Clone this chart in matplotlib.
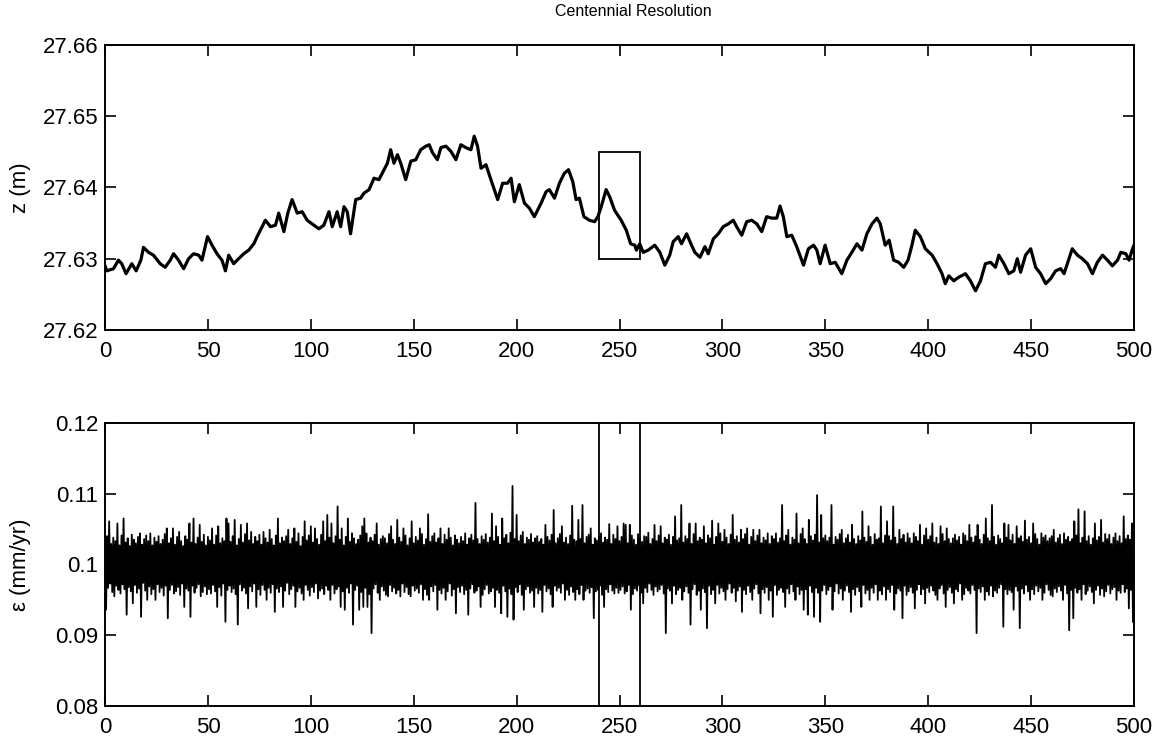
import matplotlib
matplotlib.use('Agg')
import matplotlib.pyplot as plt
from matplotlib.patches import Rectangle

plt.rcParams['font.family'] = ['Liberation Sans', 'DejaVu Sans']

# top panel: water level z (m) against time
top_x = [0.0, 0.8, 4.1, 6.5, 8.1, 10.2, 13.0, 15.1, 17.4, 18.7, 21.1, 23.5, 26.8, 29.2, 31.7, 33.3, 35.7, 38.2,
         40.6, 43.0, 45.5, 47.1, 49.8, 52.0, 54.4, 56.8, 58.5, 60.1, 62.5, 64.9, 67.4, 69.8, 72.3, 73.9, 76.3,
         77.9, 80.4, 82.8, 84.4, 86.9, 88.8, 90.9, 93.4, 95.8, 98.2, 101.5, 103.9, 106.3, 108.8, 110.4, 112.8,
         114.5, 116.1, 117.7, 119.3, 121.8, 124.2, 125.8, 128.3,
         130.7, 133.1, 135.6, 137.2, 138.8, 140.4, 142.1, 143.7, 146.1, 148.6, 151.0, 153.4, 155.9, 157.5,
         159.1, 161.5, 163.2, 165.6, 168.0, 170.5, 172.9, 175.3, 177.8, 179.4, 181.0, 182.7, 185.1, 187.5,
         190.8, 193.2, 195.6, 197.3, 198.9, 201.3, 203.8, 206.2, 208.6, 211.9, 214.3, 215.9, 218.4, 220.8,
         223.2, 225.2, 227.3, 228.9, 230.5, 232.7, 235.4, 237.9, 239.5, 241.1, 243.5, 245.2, 247.6, 250.8,
         253.3, 255.4,
         257.4, 258.2, 259.8, 261.5, 263.9, 267.1, 269.6, 272.0, 274.4, 276.1, 278.5, 280.1, 282.6, 285.0,
         286.6, 289.1, 291.5, 293.1, 295.6, 298.0, 300.4, 302.9, 305.3, 306.9, 309.4, 311.8, 314.2, 316.7,
         319.1, 321.5, 324.0, 326.4, 328.0, 329.6, 331.3, 333.7, 336.1, 339.4, 341.8, 344.3, 345.9, 347.5,
         349.9, 352.4, 354.8, 358.0, 360.5, 362.9, 365.4, 367.8, 370.2, 372.7, 375.1, 376.7,
         379.1, 381.0, 383.2, 385.6, 388.1, 390.2, 392.1, 393.7, 396.2, 398.6, 401.9, 404.3, 406.7, 408.3,
         410.0, 412.4, 414.8, 418.1, 420.5, 423.0, 425.4, 427.8, 430.3, 432.7, 434.3, 436.8, 439.2, 441.6,
         443.3, 444.9, 447.3, 449.8, 452.2, 454.6, 457.1, 459.5, 461.9, 464.4, 466.0, 467.6, 470.0, 472.5,
         474.9, 477.4, 479.8, 482.2, 484.7, 487.1, 489.5, 492.0, 493.6, 496.0, 497.6, 499.3, 500.0]
top_z = [27.6290, 27.6283, 27.6286, 27.6298, 27.6293, 27.6279, 27.6293, 27.6283, 27.6298, 27.6316, 27.6309,
         27.6305, 27.6293, 27.6288, 27.6298, 27.6307, 27.6298, 27.6286, 27.6300, 27.6307, 27.6305, 27.6298,
         27.6331, 27.6319, 27.6307, 27.6298, 27.6283, 27.6305, 27.6293, 27.6300, 27.6307, 27.6312, 27.6321,
         27.6331, 27.6345, 27.6354, 27.6345, 27.6347, 27.6364, 27.6338, 27.6364, 27.6383, 27.6364, 27.6366,
         27.6354, 27.6347, 27.6342, 27.6347, 27.6366, 27.6345, 27.6366, 27.6345, 27.6373, 27.6366, 27.6335,
         27.6383, 27.6385, 27.6392, 27.6397,
         27.6413, 27.6411, 27.6425, 27.6434, 27.6453, 27.6434, 27.6446, 27.6434, 27.6411, 27.6437, 27.6439,
         27.6453, 27.6458, 27.6460, 27.6449, 27.6439, 27.6456, 27.6458, 27.6451, 27.6439, 27.6460, 27.6456,
         27.6453, 27.6472, 27.6458, 27.6427, 27.6432, 27.6411, 27.6383, 27.6406, 27.6406, 27.6413, 27.6380,
         27.6404, 27.6378, 27.6371, 27.6359, 27.6378, 27.6394, 27.6397, 27.6385, 27.6406, 27.6420, 27.6425,
         27.6408, 27.6383, 27.6385, 27.6359, 27.6354, 27.6352, 27.6359, 27.6373, 27.6397, 27.6387, 27.6368,
         27.6354, 27.6340, 27.6321,
         27.6319, 27.6312, 27.6321, 27.6309, 27.6312, 27.6319, 27.6309, 27.6291, 27.6305, 27.6324, 27.6331,
         27.6321, 27.6335, 27.6319, 27.6309, 27.6302, 27.6317, 27.6307, 27.6328, 27.6335, 27.6345, 27.6349,
         27.6354, 27.6345, 27.6333, 27.6352, 27.6354, 27.6349, 27.6338, 27.6359, 27.6357, 27.6357, 27.6374,
         27.6359, 27.6331, 27.6333, 27.6317, 27.6291, 27.6314, 27.6319, 27.6312, 27.6293, 27.6319, 27.6293,
         27.6295, 27.6279, 27.6298, 27.6309, 27.6321, 27.6312, 27.6335, 27.6349, 27.6357, 27.6349,
         27.6319, 27.6326, 27.6298, 27.6295, 27.6288, 27.6298, 27.6319, 27.6340, 27.6331, 27.6314, 27.6305,
         27.6293, 27.6279, 27.6265, 27.6276, 27.6269, 27.6274, 27.6279, 27.6269, 27.6255, 27.6269, 27.6293,
         27.6295, 27.6288, 27.6305, 27.6293, 27.6279, 27.6283, 27.6300, 27.6281, 27.6305, 27.6314, 27.6288,
         27.6279, 27.6265, 27.6272, 27.6283, 27.6286, 27.6279, 27.6293, 27.6314, 27.6305, 27.6300, 27.6293,
         27.6279, 27.6295, 27.6305, 27.6298, 27.6290, 27.6298, 27.6309, 27.6307, 27.6298, 27.6314, 27.6319]

# bottom panel: epsilon, as offsets from 0.1 mm/yr in units of 1e-4
# eps_hi[i] is the upward excursion at t = i, eps_lo[i] the downward one at t = i + 0.5
eps_base = 0.1
eps_hi = [34, 40, 61, 29, 38, 33, 58, 27, 41, 65,  31, 37, 26, 42, 35, 30, 39, 44, 28, 36,
          41, 33, 44, 27, 38, 32, 40, 29, 35, 43,  51, 30, 37, 51, 28, 39, 46, 33, 26, 40,
          35, 58, 31, 65, 29, 38, 56, 32, 42, 27,  39, 34, 51, 28, 41, 54, 30, 37, 33, 65,
          58, 32, 40, 63, 27, 36, 56, 31, 43, 58,  34, 46, 29, 39, 33, 42, 28, 46, 37, 31,
          49, 36, 27, 41, 65, 30, 38, 33, 40, 49,  29, 37, 51, 32, 44, 26, 39, 61, 34, 41,
          54, 31, 51, 36, 28, 42, 61, 33, 70, 38,  58, 30, 40, 82, 35, 51, 27, 39, 65, 32,
          44, 37, 29, 35, 41, 54, 65, 44, 31, 38,  33, 42, 58, 28, 36, 40, 37, 30, 43, 54,
          35, 29, 63, 38, 32, 51, 41, 27, 37, 61,  30, 39, 34, 51, 43, 28, 36, 71, 32, 40,
          44, 31, 37, 51, 29, 42, 35, 51, 38, 27,  41, 35, 30, 39, 33, 44, 28, 37, 42, 34,
          87, 36, 29, 40, 35, 43, 31, 38, 72, 33,  54, 39, 28, 65, 37, 42, 30, 45, 111, 36,
          70, 33, 41, 46, 29, 38, 35, 43, 31, 37,  40, 32, 36, 28, 56, 39, 34, 42, 77, 30,
          37, 43, 54, 31, 38, 29, 41, 83, 35, 33,  63, 36, 84, 30, 39, 42, 51, 28, 37, 34,
          40, 44, 31, 38, 35, 57, 29, 42, 36, 54,  33, 39, 58, 56, 30, 56, 41, 35, 28, 43,
          37, 32, 40, 39, 45, 29, 36, 56, 33, 41,  54, 30, 38, 35, 42, 28, 39, 68, 34, 37,
          84, 31, 40, 36, 58, 29, 43, 58, 33, 38,  35, 54, 30, 41, 37, 62, 28, 39, 58, 44,
          32, 49, 38, 29, 42, 70, 35, 40, 31, 49,  36, 43, 51, 28, 39, 49, 33, 41, 49, 30,
          38, 34, 44, 29, 40, 36, 44, 31, 37, 84,  33, 41, 49, 28, 38, 35, 72, 30, 43, 51,
          36, 29, 63, 40, 34, 42, 98, 31, 70, 37,  41, 33, 38, 84, 28, 39, 35, 43, 49, 30,
          37, 42, 31, 56, 36, 29, 40, 34, 75, 38,  32, 54, 39, 28, 43, 35, 37, 82, 30, 41,
          61, 40, 34, 82, 38, 29, 49, 36, 42, 31,  44, 37, 30, 44, 39, 33, 56, 28, 41, 51,
          35, 40, 58, 31, 38, 29, 54, 43, 33, 51,  36, 30, 37, 42, 34, 39, 28, 44, 41, 33,
          56, 38, 31, 40, 56, 35, 29, 42, 65, 37,  33, 84, 39, 28, 41, 36, 30, 58, 38, 56,
          34, 42, 29, 54, 37, 40, 32, 62, 35, 39,  30, 58, 43, 36, 28, 44, 38, 41, 33, 37,
          40, 49, 31, 37, 42, 29, 44, 35, 39, 32,  36, 61, 41, 78, 30, 38, 75, 33, 40, 28,
          37, 58, 34, 39, 63, 31, 43, 36, 42, 29,  38, 44, 33, 40, 30, 68, 36, 41, 35, 58]
eps_lo = [-64, -33, -27, -39, -45, -30, -36, -41, -28, -35,  -71, -32, -38, -55, -29, -40, -34, -74, -26, -37,
          -50, -31, -42, -35, -50, -28, -39, -33, -44, -30,  -76, -36, -29, -41, -38, -32, -43, -27, -60, -34,
          -37, -74, -30, -40, -33, -28, -45, -39, -31, -42,  -35, -41, -29, -38, -60, -32, -44, -27, -81, -36,
          -30, -39, -34, -42, -85, -28, -37, -33, -41, -62,  -31, -38, -27, -60, -35, -43, -29, -36, -50, -33,
          -40, -28, -67, -34, -39, -31, -60, -37, -26, -42,  -35, -30, -60, -38, -33, -41, -50, -29, -36, -44,
          -32, -39, -27, -48, -37, -34, -42, -30, -36, -50,  -29, -41, -35, -31, -60, -38, -64, -33, -40, -27,
          -85, -36, -30, -64, -39, -60, -33, -60, -42, -97,  -34, -28, -40, -50, -31, -37, -43, -45, -29, -38,
          -33, -41, -36, -45, -27, -39, -32, -42, -45, -30,  -37, -34, -40, -28, -50, -35, -43, -50, -31, -38,
          -29, -64, -36, -41, -33, -50, -38, -27, -44, -35,  -69, -32, -39, -30, -42, -36, -71, -34, -28, -40,
          -37, -31, -60, -43, -35, -29, -41, -38, -33, -60,  -36, -40, -69, -30, -38, -74, -34, -42, -78, -32,
          -39, -28, -43, -64, -35, -31, -40, -37, -60, -33,  -41, -36, -67, -29, -38, -34, -42, -60, -30, -37,
          -33, -40, -27, -50, -36, -43, -31, -39, -50, -35,  -42, -29, -50, -37, -34, -40, -32, -76, -38, -36,
          -30, -43, -60, -35, -39, -28, -37, -41, -33, -40,  -36, -31, -41, -38, -29, -64, -42, -34, -37, -30,
          -40, -55, -33, -39, -27, -36, -43, -31, -38, -35,  -29, -41, -97, -34, -37, -55, -30, -42, -36, -33,
          -50, -38, -31, -40, -85, -35, -28, -43, -37, -64,  -34, -39, -90, -30, -42, -36, -55, -29, -41, -33,
          -38, -50, -35, -27, -40, -33, -52, -37, -31, -67,  -36, -42, -30, -39, -50, -34, -28, -41, -69, -35,
          -40, -32, -50, -37, -74, -29, -43, -36, -33, -39,  -60, -34, -41, -28, -38, -50, -31, -42, -36, -64,
          -35, -71, -30, -39, -74, -33, -40, -81, -37, -29,  -42, -36, -31, -64, -38, -27, -41, -34, -50, -37,
          -30, -39, -67, -35, -43, -32, -38, -60, -29, -41,  -36, -50, -33, -40, -28, -50, -37, -42, -31, -50,
          -35, -39, -29, -64, -41, -34, -37, -76, -30, -43,  -38, -32, -40, -62, -36, -28, -42, -35, -55, -33,
          -39, -30, -37, -43, -50, -34, -29, -41, -60, -36,  -32, -40, -55, -35, -38, -27, -50, -42, -33, -37,
          -41, -29, -36, -97, -34, -39, -31, -50, -38, -43,  -30, -45, -37, -40, -33, -28, -88, -35, -42, -36,
          -39, -64, -31, -37, -90, -34, -41, -29, -38, -50,  -35, -42, -30, -38, -33, -50, -40, -28, -36, -43,
          -45, -34, -39, -31, -37, -50, -29, -41, -93, -36,  -76, -33, -40, -35, -50, -28, -42, -37, -31, -39,
          -55, -36, -30, -43, -34, -45, -38, -29, -41, -35,  -32, -50, -37, -40, -28, -39, -34, -62, -36, -81]

# highlighted window
box_t = [240, 260]
box_z = [27.630, 27.645]
box_eps = [0.08, 0.12]

eps_t = []
eps_v = []
for i in range(len(eps_hi)):
    eps_t += [i, i + 0.5]
    eps_v += [eps_base + eps_hi[i] * 1e-4, eps_base + eps_lo[i] * 1e-4]

fig = plt.figure(figsize=(11.62, 7.44), dpi=100)
ax1 = fig.add_axes([0.0904, 0.5565, 0.8855, 0.383])
ax2 = fig.add_axes([0.0904, 0.0511, 0.8855, 0.3804])

ax1.plot(top_x, top_z, color='black', lw=2.3)
ax1.add_patch(Rectangle((box_t[0], box_z[0]), box_t[1] - box_t[0], box_z[1] - box_z[0],
                        fill=False, ec='black', lw=1.3))
ax1.set_xlim(0, 500)
ax1.set_ylim(27.62, 27.66)
ax1.set_yticks([27.62, 27.63, 27.64, 27.65, 27.66])
ax1.set_yticklabels(['27.62', '27.63', '27.64', '27.65', '27.66'])
ax1.set_ylabel('z (m)', fontsize=16)

ax2.plot(eps_t, eps_v, color='black', lw=1.3)
for t in box_t:
    ax2.plot([t, t], box_eps, color='black', lw=1.3)
ax2.set_xlim(0, 500)
ax2.set_ylim(0.08, 0.12)
ax2.set_yticks([0.08, 0.09, 0.10, 0.11, 0.12])
ax2.set_yticklabels(['0.08', '0.09', '0.1', '0.11', '0.12'])
ax2.set_ylabel('ε (mm/yr)', fontsize=16)

for ax in (ax1, ax2):
    ax.set_xticks(range(0, 501, 50))
    ax.tick_params(direction='in', length=8, width=1.2, top=True, right=True, labelsize=16)
    ax.tick_params(axis='x', pad=8)
    ax.tick_params(axis='y', pad=5)
    for s in ax.spines.values():
        s.set_linewidth(1.4)
    ax.yaxis.set_label_coords(-0.072, 0.5)

fig.text(633 / 1162, 1 - 11 / 744, 'Centennial Resolution', ha='center', va='center', fontsize=11.5)

fig.savefig('out.png', dpi=100)
